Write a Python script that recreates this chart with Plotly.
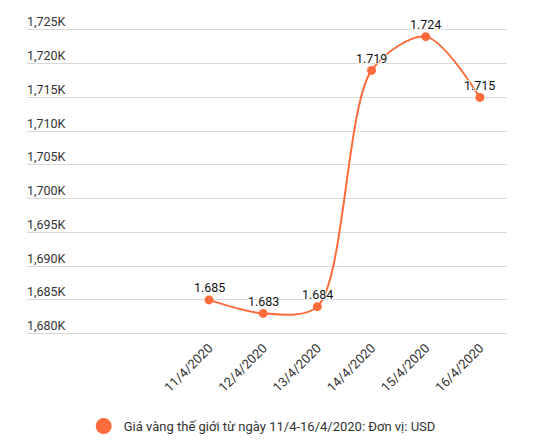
import plotly.graph_objects as go

# gia vang the gioi 11/4 - 16/4/2020 (USD)
dates = ["11/4/2020", "12/4/2020", "13/4/2020", "14/4/2020", "15/4/2020", "16/4/2020"]
prices = [1685, 1683, 1684, 1719, 1724, 1715]
price_labels = ["1.685", "1.683", "1.684", "1.719", "1.724", "1.715"]

y_ticks = [1680, 1685, 1690, 1695, 1700, 1705, 1710, 1715, 1720, 1725]
y_ticktext = ["1,680K", "1,685K", "1,690K", "1,695K", "1,700K", "1,705K",
              "1,710K", "1,715K", "1,720K", "1,725K"]

legend_name = "Giá vàng thế giới từ ngày 11/4-16/4/2020: Đơn vị: USD"
orange = "#ff6b3b"
halo = "1px 1px 0 #fff, -1px -1px 0 #fff, 1px -1px 0 #fff, -1px 1px 0 #fff"

fig = go.Figure()

fig.add_trace(go.Scatter(
    x=dates, y=prices, mode="lines+markers",
    line=dict(color=orange, width=2, shape="spline", smoothing=0.85),
    marker=dict(color=orange, size=9),
    showlegend=False, hoverinfo="skip"))

# legend entry only (big dot like the original)
fig.add_trace(go.Scatter(
    x=[None], y=[None], mode="markers", name=legend_name,
    marker=dict(color=orange, size=16)))

# value labels just above each point
for d, p, lab in zip(dates, prices, price_labels):
    fig.add_annotation(x=d, y=p, text=lab, showarrow=False, yshift=12,
                       font=dict(family="Roboto", size=12.5, color="#111", shadow=halo))

fig.update_layout(
    width=544, height=447,
    margin=dict(l=19, r=45, t=5, b=118, autoexpand=False),
    paper_bgcolor="white", plot_bgcolor="white",
    font=dict(family="Roboto", size=12, color="#333"),
    legend=dict(orientation="h", x=0.49, xanchor="center", y=-0.275, yanchor="middle",
                font=dict(size=13, color="#333")),
)

fig.update_xaxes(type="category", range=[-3.36, 5.5], showgrid=False, zeroline=False,
                 showline=False, tickangle=-45, tickfont=dict(size=13, color="#333"),
                 ticks="", automargin=False, fixedrange=True)
fig.update_yaxes(range=[1679.5, 1727.5], tickvals=y_ticks, ticktext=y_ticktext,
                 showgrid=True, gridcolor="#d9d9d9", gridwidth=1, zeroline=False,
                 showline=False, ticks="", ticklabelposition="inside",
                 ticklabelshift=-8, ticklabelstandoff=-3, automargin=False,
                 tickfont=dict(size=12.5, color="#333"), fixedrange=True)

fig.write_html("out.html")
